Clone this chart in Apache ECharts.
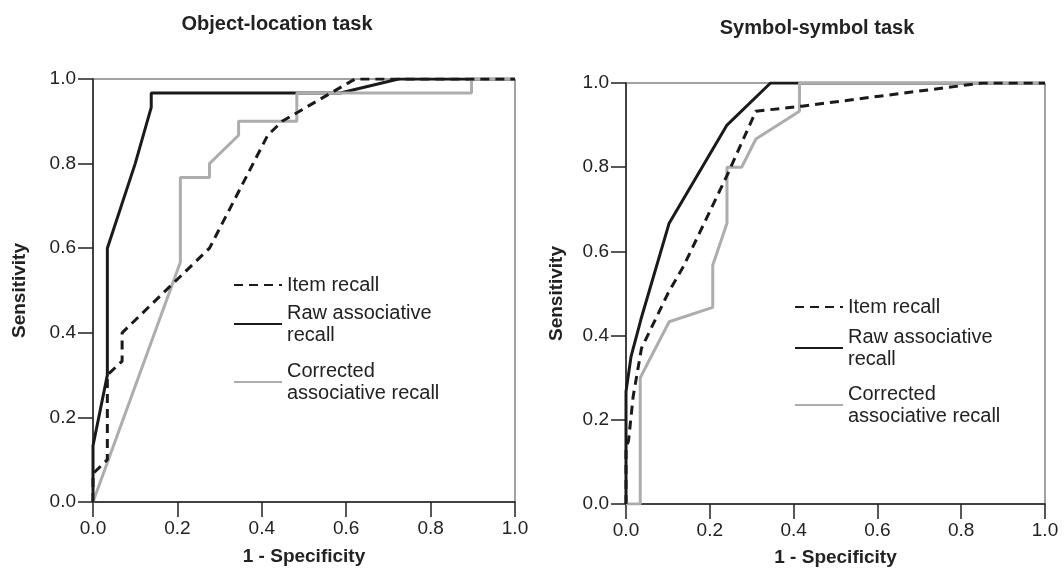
<!DOCTYPE html>
<html>
<head>
<meta charset="utf-8">
<script src="https://cdn.jsdelivr.net/npm/echarts@6/dist/echarts.min.js"></script>
<style>
  html, body { margin: 0; padding: 0; background: #fff; }
  #chart { width: 1064px; height: 580px; }
</style>
</head>
<body>
<div id="chart"></div>
<script>
// panel titles and series names
const panelTitles = ['Object-location task', 'Symbol-symbol task']
const seriesNames = ['Raw associative recall', 'Corrected associative recall', 'Item recall']
const tickValues = [0, 0.2, 0.4, 0.6, 0.8, 1.0]

// object-location task, [1 - specificity, sensitivity]
const objRaw = [[0, 0], [0, 0.133], [0.034, 0.3], [0.034, 0.6], [0.1, 0.8], [0.138, 0.933], [0.138, 0.967], [0.586, 0.967], [0.724, 1], [1, 1]]
const objCorrected = [[0, 0], [0.207, 0.567], [0.207, 0.767], [0.276, 0.767], [0.276, 0.8], [0.345, 0.867], [0.345, 0.9], [0.483, 0.9], [0.483, 0.967], [0.897, 0.967], [0.897, 1], [1, 1]]
const objItem = [[0, 0], [0, 0.067], [0.034, 0.1], [0.034, 0.3], [0.069, 0.333], [0.069, 0.4], [0.276, 0.6], [0.414, 0.867], [0.448, 0.9], [0.621, 1], [1, 1]]

// symbol-symbol task
const symRaw = [[0, 0], [0, 0.267], [0.012, 0.35], [0.036, 0.44], [0.103, 0.667], [0.241, 0.9], [0.345, 1], [1, 1]]
const symCorrected = [[0, 0], [0.034, 0], [0.034, 0.3], [0.103, 0.433], [0.207, 0.467], [0.207, 0.567], [0.241, 0.667], [0.241, 0.8], [0.276, 0.8], [0.31, 0.867], [0.414, 0.933], [0.414, 1], [1, 1]]
const symItem = [[0, 0], [0, 0.133], [0.006, 0.15], [0.017, 0.255], [0.037, 0.37], [0.1, 0.5], [0.137, 0.564], [0.24, 0.778], [0.31, 0.933], [0.42, 0.945], [0.85, 1], [1, 1]]

const FONT = "'Liberation Sans', Arial, sans-serif"
const BLACK = '#1a1a1a'
const GRAY = '#adadad'

var myChart = echarts.init(document.getElementById('chart'), null, { renderer: 'canvas' })

// one grid per panel
const grids = [
  { left: 93, right: 549, top: 79, bottom: 78 },
  { left: 626, right: 19, top: 83, bottom: 76 },
]

function makeAxis(gridIndex, name, nameGap) {
  return {
    type: 'value',
    gridIndex: gridIndex,
    min: 0,
    max: 1,
    interval: 0.2,
    name: name,
    nameLocation: 'middle',
    nameGap: nameGap,
    nameTextStyle: { fontFamily: FONT, fontSize: 19, fontWeight: 'bold', color: '#222' },
    axisLine: { show: true, onZero: false, lineStyle: { color: '#222', width: 1.5 } },
    axisTick: { show: true, length: 15, lineStyle: { color: '#222', width: 1.5 } },
    axisLabel: {
      fontFamily: FONT,
      fontSize: 19,
      color: '#222',
      margin: 17,
      formatter: (v) => v.toFixed(1),
    },
    splitLine: { show: false },
  }
}

function lineSeries(name, data, gridIndex) {
  const styles = {
    'Raw associative recall': { color: BLACK, width: 3, type: 'solid' },
    'Corrected associative recall': { color: GRAY, width: 3, type: 'solid' },
    'Item recall': { color: BLACK, width: 3, type: [9, 6] },
  }
  return {
    name: name,
    type: 'line',
    xAxisIndex: gridIndex,
    yAxisIndex: gridIndex,
    data: data,
    symbol: 'none',
    showSymbol: false,
    silent: true,
    animation: false,
    itemStyle: { color: styles[name].color },
    lineStyle: styles[name],
  }
}

// legend label line breaks
const legendText = {
  'Item recall': 'Item recall',
  'Raw associative recall': 'Raw associative\nrecall',
  'Corrected associative recall': 'Corrected\nassociative recall',
}

function legendItem(name, left, top) {
  return {
    data: [name],
    left: left,
    top: top,
    padding: 0,
    itemWidth: 48,
    itemHeight: 14,
    selectedMode: false,
    itemStyle: { opacity: 0 },
    formatter: (n) => legendText[n],
    textStyle: { fontFamily: FONT, fontSize: 20, color: '#222', lineHeight: 22 },
  }
}

var option = {
  backgroundColor: '#fff',
  animation: false,
  title: [
    { text: panelTitles[0], left: 272, top: 9, textAlign: 'center', textStyle: { fontFamily: FONT, fontSize: 20, fontWeight: 'bold', color: '#222' } },
    { text: panelTitles[1], left: 812, top: 13, textAlign: 'center', textStyle: { fontFamily: FONT, fontSize: 20, fontWeight: 'bold', color: '#222' } },
  ],
  legend: [
    legendItem('Item recall', 233, 274),
    legendItem('Raw associative recall', 233, 302),
    legendItem('Corrected associative recall', 233, 360),
    legendItem('Item recall', 794, 296),
    legendItem('Raw associative recall', 794, 326),
    legendItem('Corrected associative recall', 794, 383),
  ],
  grid: grids.map((g) => Object.assign({ show: true, borderColor: '#444', borderWidth: 1, backgroundColor: 'transparent' }, g)),
  xAxis: [makeAxis(0, '1 - Specificity', 45), makeAxis(1, '1 - Specificity', 44)],
  yAxis: [makeAxis(0, 'Sensitivity', 64), makeAxis(1, 'Sensitivity', 60)],
  series: [
    lineSeries(seriesNames[0], objRaw, 0),
    lineSeries(seriesNames[1], objCorrected, 0),
    lineSeries(seriesNames[2], objItem, 0),
    lineSeries(seriesNames[0], symRaw, 1),
    lineSeries(seriesNames[1], symCorrected, 1),
    lineSeries(seriesNames[2], symItem, 1),
  ],
}

myChart.setOption(option)
</script>
</body>
</html>
